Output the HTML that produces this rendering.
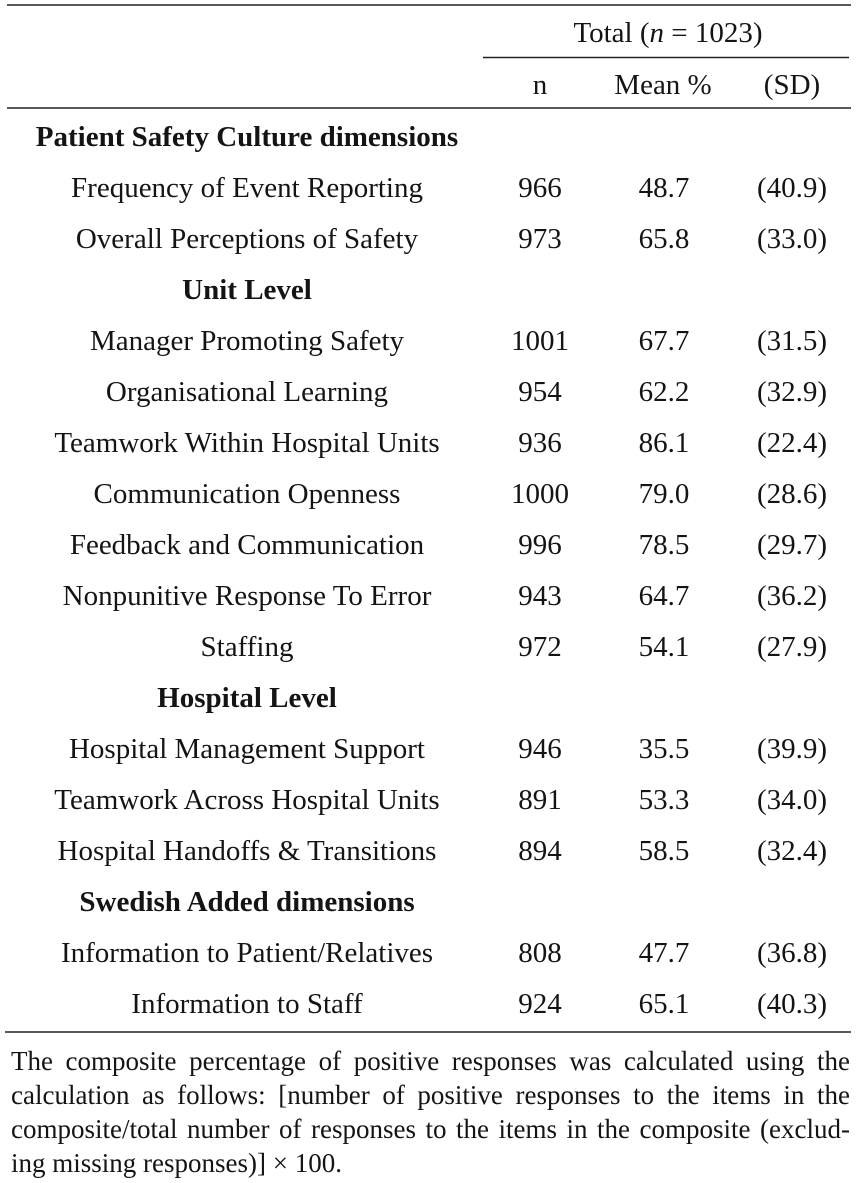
<!DOCTYPE html>
<html>
<head>
<meta charset="utf-8">
<style>
  html, body { margin: 0; padding: 0; background: #ffffff; }
  body { width: 856px; height: 1183px; position: relative; overflow: hidden; }
  svg { position: absolute; left: 0; top: 0; }
  svg text { font-family: "Liberation Serif", "Times New Roman", serif; font-size: 29px; fill: #141414; }
  .b { font-weight: bold; }
  .fn {
    position: absolute; left: 11px; width: 839px;
    font-family: "Liberation Serif", "Times New Roman", serif;
    font-size: 27px; line-height: 34px; color: #141414;
    white-space: nowrap;
  }
  .j { text-align: justify; text-align-last: justify; }
</style>
</head>
<body>
<svg width="856" height="1183" viewBox="0 0 856 1183" xmlns="http://www.w3.org/2000/svg">
  <!-- rules -->
  <line x1="7" y1="5" x2="851" y2="5" stroke="#222" stroke-width="1.6"/>
  <line x1="483" y1="57.5" x2="849" y2="57.5" stroke="#222" stroke-width="1.6"/>
  <line x1="7" y1="108" x2="851" y2="108" stroke="#222" stroke-width="1.6"/>
  <line x1="5" y1="1032" x2="851" y2="1032" stroke="#222" stroke-width="1.6"/>

  <!-- header -->
  <text x="668" y="42" text-anchor="middle">Total (<tspan font-style="italic">n</tspan> = 1023)</text>
  <text x="540" y="94" text-anchor="middle">n</text>
  <text x="663" y="94" text-anchor="middle">Mean %</text>
  <text x="792" y="94" text-anchor="middle">(SD)</text>

  <!-- rows -->
  <g text-anchor="middle">
    <text class="b" x="247" y="146">Patient Safety Culture dimensions</text>

    <text x="247" y="197">Frequency of Event Reporting</text>
    <text x="540" y="197">966</text><text x="664" y="197">48.7</text><text x="792" y="197">(40.9)</text>

    <text x="247" y="248">Overall Perceptions of Safety</text>
    <text x="540" y="248">973</text><text x="664" y="248">65.8</text><text x="792" y="248">(33.0)</text>

    <text class="b" x="247" y="299">Unit Level</text>

    <text x="247" y="350">Manager Promoting Safety</text>
    <text x="540" y="350">1001</text><text x="664" y="350">67.7</text><text x="792" y="350">(31.5)</text>

    <text x="247" y="401">Organisational Learning</text>
    <text x="540" y="401">954</text><text x="664" y="401">62.2</text><text x="792" y="401">(32.9)</text>

    <text x="247" y="452">Teamwork Within Hospital Units</text>
    <text x="540" y="452">936</text><text x="664" y="452">86.1</text><text x="792" y="452">(22.4)</text>

    <text x="247" y="503">Communication Openness</text>
    <text x="540" y="503">1000</text><text x="664" y="503">79.0</text><text x="792" y="503">(28.6)</text>

    <text x="247" y="554">Feedback and Communication</text>
    <text x="540" y="554">996</text><text x="664" y="554">78.5</text><text x="792" y="554">(29.7)</text>

    <text x="247" y="605">Nonpunitive Response To Error</text>
    <text x="540" y="605">943</text><text x="664" y="605">64.7</text><text x="792" y="605">(36.2)</text>

    <text x="247" y="656">Staffing</text>
    <text x="540" y="656">972</text><text x="664" y="656">54.1</text><text x="792" y="656">(27.9)</text>

    <text class="b" x="247" y="707">Hospital Level</text>

    <text x="247" y="758">Hospital Management Support</text>
    <text x="540" y="758">946</text><text x="664" y="758">35.5</text><text x="792" y="758">(39.9)</text>

    <text x="247" y="809">Teamwork Across Hospital Units</text>
    <text x="540" y="809">891</text><text x="664" y="809">53.3</text><text x="792" y="809">(34.0)</text>

    <text x="247" y="860">Hospital Handoffs &amp; Transitions</text>
    <text x="540" y="860">894</text><text x="664" y="860">58.5</text><text x="792" y="860">(32.4)</text>

    <text class="b" x="247" y="911">Swedish Added dimensions</text>

    <text x="247" y="962">Information to Patient/Relatives</text>
    <text x="540" y="962">808</text><text x="664" y="962">47.7</text><text x="792" y="962">(36.8)</text>

    <text x="247" y="1013">Information to Staff</text>
    <text x="540" y="1013">924</text><text x="664" y="1013">65.1</text><text x="792" y="1013">(40.3)</text>
  </g>
</svg>

<div class="fn j" style="top:1044px;">The composite percentage of positive responses was calculated using the</div>
<div class="fn j" style="top:1078px;">calculation as follows: [number of positive responses to the items in the</div>
<div class="fn j" style="top:1112px;">composite/total number of responses to the items in the composite (exclud-</div>
<div class="fn" style="top:1146px;">ing missing responses)] × 100.</div>
</body>
</html>
